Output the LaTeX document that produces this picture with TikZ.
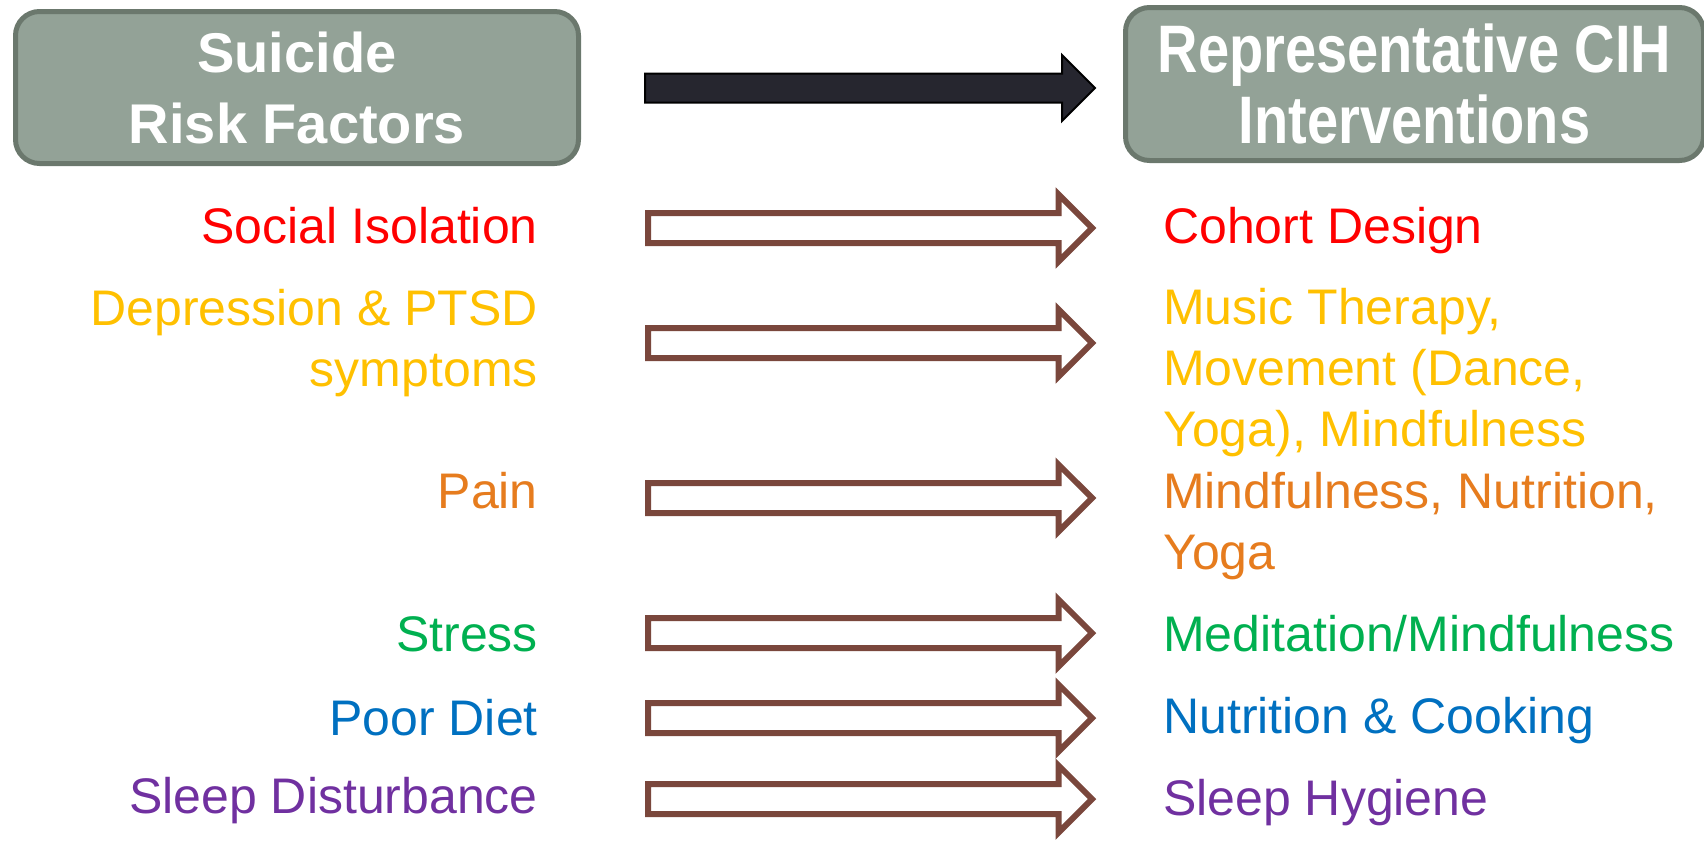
\documentclass[tikz,border=0pt]{standalone}
\usepackage{fontspec}
\setmainfont{Liberation Sans}
\usepackage{xcolor}
\usepackage{graphicx}
\usepackage{tikz}
\usetikzlibrary{shapes.arrows}
\usetikzlibrary{positioning}

\definecolor{boxfill}{HTML}{93A297}
\definecolor{boxline}{HTML}{6B786D}
\definecolor{arrowbrown}{HTML}{7A473C}
\definecolor{arrowdark}{HTML}{26262F}
\definecolor{isored}{HTML}{FF0000}
\definecolor{ptsdgold}{HTML}{FFC000}
\definecolor{painorange}{HTML}{E67C1E}
\definecolor{stressgreen}{HTML}{00B050}
\definecolor{dietblue}{HTML}{0070C0}
\definecolor{sleeppurple}{HTML}{7030A0}

\begin{document}
\begin{tikzpicture}[x=1pt, y=-1pt,
    header/.style={draw=boxline, fill=boxfill, line width=5pt, rounded corners=24pt,
      text=white, align=center, inner sep=0pt,
      font=\fontsize{56}{71}\selectfont\bfseries},
    risk/.style={anchor=base east, align=right, inner sep=0pt,
      font=\fontsize{50}{61}\selectfont},
    cih/.style={anchor=base west, align=left, inner sep=0pt,
      font=\fontsize{50}{61}\selectfont},
    hollow/.style={single arrow, draw=arrowbrown, fill=white, line width=6pt,
      anchor=tail, inner sep=12pt, outer sep=0pt, minimum width=0pt, minimum height=444pt,
      single arrow head extend=18.5pt, single arrow tip angle=90},
    bigarrow/.style={single arrow, draw=black, fill=arrowdark, line width=2pt,
      anchor=tail, inner sep=13.5pt, outer sep=0pt, minimum width=0pt, minimum height=450pt,
      single arrow head extend=18.5pt, single arrow tip angle=90},
  ]
  \useasboundingbox (0,0) rectangle (1704,846);

  % headers
  \node[header, minimum width=563pt, minimum height=152pt] (riskhead) at (297,87.5)
    {Suicide\\Risk Factors};
  \node[header, minimum width=578pt, minimum height=153pt] (cihhead) at (1414.5,84)
    {\scalebox{1}[1.2]{Representative CIH}\\\scalebox{1}[1.2]{Interventions}};
  \node[bigarrow] (mainarrow) at (645,88) {};

  % risk factors (base = last line)
  \node[risk, text=isored] (r1) at (538,243) {Social Isolation};
  \node[risk, text=ptsdgold] (r2) at (538,386) {Depression \& PTSD\\symptoms};
  \node[risk, text=painorange] (r3) at (538,508) {Pain};
  \node[risk, text=stressgreen] (r4) at (538,651) {Stress};
  \node[risk, text=dietblue] (r5) at (538,735) {Poor Diet};
  \node[risk, text=sleeppurple] (r6) at (538,813) {Sleep Disturbance};

  % interventions (base = last line)
  \node[cih, text=isored] (c1) at (1163,243) {Cohort Design};
  \node[cih, text=ptsdgold] (c2) at (1163,446) {Music Therapy,\\Movement (Dance,\\Yoga), Mindfulness};
  \node[cih, text=painorange] (c3) at (1163,569) {Mindfulness, Nutrition,\\Yoga};
  \node[cih, text=stressgreen] (c4) at (1163,651) {Meditation/Mindfulness};
  \node[cih, text=dietblue] (c5) at (1163,733) {Nutrition \& Cooking};
  \node[cih, text=sleeppurple] (c6) at (1163,815) {Sleep Hygiene};

  % arrows
  \node[hollow] (a1) at (648,228) {};
  \node[hollow] (a2) at (648,343) {};
  \node[hollow] (a3) at (648,498) {};
  \node[hollow] (a4) at (648,633) {};
  \node[hollow] (a5) at (648,718) {};
  \node[hollow] (a6) at (648,799) {};
\end{tikzpicture}
\end{document}
